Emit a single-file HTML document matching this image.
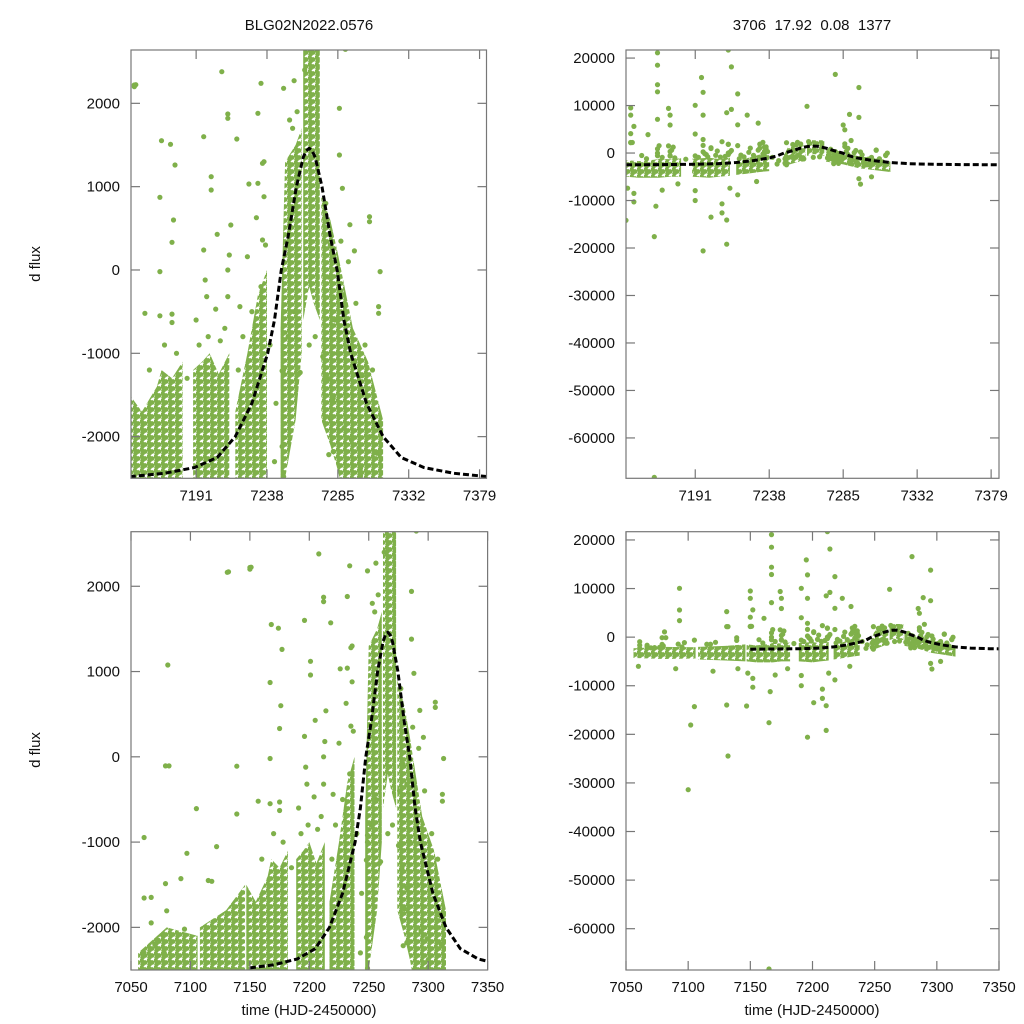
<!DOCTYPE html>
<html><head><meta charset="utf-8">
<style>
html,body{margin:0;padding:0;background:#fff;width:1024px;height:1024px;overflow:hidden;}
svg{display:block;overflow:hidden;font-family:"Liberation Sans",sans-serif;}
</style></head>
<body>
<svg id="chart" width="1024" height="1024" viewBox="0 0 1024 1024">
<defs>
<pattern id="dots" patternUnits="userSpaceOnUse" width="7" height="7">
<circle cx="1.5" cy="1.5" r="2.5" fill="#7fb04a"/>
<circle cx="5" cy="3.5" r="2.4" fill="#7fb04a"/>
<circle cx="2.5" cy="5.5" r="2.3" fill="#7fb04a"/>
</pattern>
</defs>
<text x="309" y="30" font-size="15" text-anchor="middle" fill="#111">BLG02N2022.0576</text>
<text x="812" y="30" font-size="15" text-anchor="middle" fill="#111" xml:space="preserve">3706  17.92  0.08  1377</text>
<text transform="translate(40,264) rotate(-90)" font-size="15" text-anchor="middle" fill="#111">d flux</text>
<text transform="translate(40,750) rotate(-90)" font-size="15" text-anchor="middle" fill="#111">d flux</text>
<text x="309" y="1015" font-size="15" text-anchor="middle" fill="#111">time (HJD-2450000)</text>
<text x="812" y="1015" font-size="15" text-anchor="middle" fill="#111">time (HJD-2450000)</text>
</svg>
<script>
// ---- data ----
// dense observation envelopes per season: [time, fluxLow, fluxHigh]
const envSeason0 = [[7056,-4300,-2300],[7080,-4500,-2000],[7106,-4400,-2100]];
const envSeason1 = [[7108,-4600,-2000],[7130,-4800,-1800],[7146,-5000,-1500]];
const envSeason2 = [[7147,-5000,-1500],[7155,-5200,-1700],[7165,-5200,-1400],[7168,-5200,-1200],[7175,-5000,-1300],[7182,-5000,-1100]];
const envSeason3 = [[7189,-5000,-1200],[7195,-5100,-1100],[7200,-5200,-1000],[7206,-5000,-1250],[7213,-4800,-1000]];
const envSeason4 = [[7217,-4600,-1700],[7225,-4300,-1000],[7232,-4000,-300],[7238,-3800,0]];
const envSeason5 = [[7247,-2800,-700],[7250,-2500,1300],[7257,-1800,1500],[7261,-1000,1700]];
const envSeason6 = [[7262,-600,2700],[7266,-200,2700],[7269,-400,2700],[7273,-600,2700]];
const envSeason7 = [[7274,-1800,900],[7280,-2100,600],[7285,-2400,200],[7295,-3200,-700],[7305,-3600,-1100],[7315,-4000,-1800]];
const envelopes = [envSeason0,envSeason1,envSeason2,envSeason3,envSeason4,envSeason5,envSeason6,envSeason7];

// individual observations [time, flux]
const obsSparse = [
[7061,-946],[7061,-1656],[7067,-1649],[7067,-1948],[7081,1077],[7079,-106],[7082,-106],[7079,-1487],[7080,-1806],
[7092,-1428],[7097,-1132],[7105,-607],[7095,-2020],[7061,-2300],[7070,-2200],[7073,-2150],[7077,-2100],[7078,-2300],
[7115,-1450],[7118,-1460],[7122,-1053],[7132,2170],[7151,2224],[7139,-670],[7139,-110],
[7150,2220],[7208,2380],[7168,1552],[7174,1508],[7177,1260],[7167,872],[7176,600],[7175,332],[7167,-20],
[7196,1600],[7201,1120],[7201,960],[7212,1872],[7212,1820],[7218,1572],[7205,428],[7214,540],[7196,240],
[7234,2240],[7232,1880],[7249,2180],[7256,2272],[7263,2400],[7290,2648],[7286,1940],[7286,1380],[7288,980],
[7306,640],[7306,580],[7313,-20],[7312,-440],[7312,-520],[7235,1280],[7236,1300],[7232,1040],[7226,1032],
[7236,880],[7231,628],[7235,360],[7225,160],[7213,180],[7212,0],[7197,-120],[7198,-320],[7212,-320],
[7157,-520],[7167,-550],[7175,-630],[7175,-530],[7191,-600],[7204,-470],[7220,-440],[7249,-1200],[7260,-1230],
[7249,-1000],[7249,-920],[7275,-1040],[7282,-1540],[7282,-2180],[7294,-2040],[7300,-2470],[7300,-2380],
[7249,-2480],[7249,-2090],[7279,-87],[7282,-323],[7290,-797],[7296,-1112],[7301,-1270],[7304,-1664],
[7310,-1860],[7299,-2137],[7279,-2215],[7248,-2118],[7248,-1211],[7259,-1250],[7280,-1782],[7293,544],
[7287,347],[7296,229],[7277,800],[7280,300],[7283,-600],[7288,-300],[7291,-1500],[7297,-400],[7303,-900],
[7308,-1200],[7311,-2200],[7276,-400],[7278,-1300],[7285,-1000],[7292,100],[7289,-1900],[7306,-2000],
[7160,-1200],[7170,-900],[7178,-1000],[7185,-1300],[7193,-900],[7199,-800],[7207,-850],[7210,-700],
[7219,-1200],[7222,-800],[7228,-500],[7234,-200],[7237,300],[7240,-900],[7244,-1600],[7243,-2300],
[7253,1800],[7255,1700],[7258,1900],[7266,-900],[7270,-800],[7252,-800],[7256,-500]
];
const obsOutliers = [
[7093,10053],[7093,5594],[7093,3400],[7102,-18073],[7105,-14300],[7131,5250],[7131,2164],[7131,-13957],
[7132,-24453],[7150,9500],[7150,8000],[7152,5600],[7150,4100],[7150,2200],[7152,-10300],[7161,3880],
[7167,21100],[7167,18500],[7167,14400],[7167,12900],[7167,7100],[7165,-17600],[7166,-11200],[7174,9400],
[7175,8000],[7175,5900],[7191,10050],[7195,15900],[7196,12800],[7196,8000],[7191,4000],[7196,2850],
[7191,-10000],[7191,-7900],[7201,-13500],[7196,-20600],[7208,-10700],[7208,-12600],[7211,-14100],[7211,-19200],
[7212,21700],[7214,18150],[7211,8500],[7214,9200],[7218,12450],[7218,5940],[7224,8000],[7231,6300],
[7213,-7400],[7218,-8800],[7262,9850],[7280,16570],[7295,13800],[7289,8130],[7295,7500],[7285,5900],
[7286,4900],[7295,-5400],[7296,-6550],[7303,-5000],[7148,-7400],[7152,-8500],[7147,-14170],[7100,-31400],
[7165,-68300],[7060,-6000],[7090,-6500],[7120,-7000],[7140,-6500],[7170,-7800],[7180,-6500],[7230,-6000]
];

// model curve samples [time], [flux]
const modelT = [7050,7100,7147,7150,7170,7190,7205,7217,7228,7238.5,7243,7247.5,7252,7257.5,7262,7264,7266,7268,7270,7274.5,7280,7284.5,7289,7293.5,7304,7315,7327,7342,7362,7384];
const modelF = [-2500,-2495,-2480,-2475,-2440,-2370,-2250,-2000,-1600,-1000,-600,0,400,1000,1350,1430,1460,1430,1350,1000,400,0,-600,-1000,-1600,-2000,-2250,-2370,-2440,-2480];

// axis ticks
const xTicksTop = [7191,7238,7285,7332,7379];
const xTicksBottom = [7050,7100,7150,7200,7250,7300,7350];
const yTicksLeft = [-2000,-1000,0,1000,2000];
const yTicksRight = [-60000,-50000,-40000,-30000,-20000,-10000,0,10000,20000];

// ---- drawing ----
const NS = "http://www.w3.org/2000/svg";
const svg = document.getElementById("chart");
const GREEN = "#7fb04a";
const panels = [
 {id:"top-left", x0:131,x1:486.5,y0:50,y1:478.3,tmin:7147.8,tmax:7383.6,fmin:-2500,fmax:2640,xt:xTicksTop,yt:yTicksLeft,mFrom:7140},
 {id:"top-right",x0:626,x1:999,y0:50,y1:478.3,tmin:7147,tmax:7384,fmin:-68500,fmax:21700,xt:xTicksTop,yt:yTicksRight,mFrom:7140},
 {id:"bottom-left",x0:131,x1:487.6,y0:531.7,y1:970,tmin:7050,tmax:7350,fmin:-2500,fmax:2640,xt:xTicksBottom,yt:yTicksLeft,mFrom:7150},
 {id:"bottom-right",x0:626,x1:999,y0:531.7,y1:970,tmin:7050,tmax:7350,fmin:-68500,fmax:21700,xt:xTicksBottom,yt:yTicksRight,mFrom:7150}
];
function mk(tag, attrs, parent){const e=document.createElementNS(NS,tag);for(const k in attrs)e.setAttribute(k,attrs[k]);(parent||svg).appendChild(e);return e;}
const defs = svg.querySelector("defs");
panels.forEach((p,pi)=>{
  const xs = t => p.x0 + (t-p.tmin)/(p.tmax-p.tmin)*(p.x1-p.x0);
  const ys = f => p.y1 - (f-p.fmin)/(p.fmax-p.fmin)*(p.y1-p.y0);
  const cp = mk("clipPath",{id:"clip"+pi},defs);
  mk("rect",{x:p.x0,y:p.y0,width:p.x1-p.x0,height:p.y1-p.y0},cp);
  const g = mk("g",{"clip-path":"url(#clip"+pi+")"});
  
  
  envelopes.forEach((env,ei)=>{
    let d = env.map((r,i)=>(i?"L":"M")+xs(r[0]).toFixed(1)+","+ys(r[2]).toFixed(1)).join("");
    d += env.slice().reverse().map(r=>"L"+xs(r[0]).toFixed(1)+","+ys(r[1]).toFixed(1)).join("")+"Z";
    const e = mk("path",{d:d,fill:"url(#dots)",stroke:"none"},g);
    
    
  });
  obsSparse.concat(obsOutliers).forEach(o=>{
    const c = mk("circle",{cx:xs(o[0]).toFixed(1),cy:ys(o[1]).toFixed(1),r:"2.6",fill:GREEN},g);
    
    
  });
  let md = ""; let first = true;
  modelT.forEach((t,i)=>{ if(t<p.mFrom) return; md += (first?"M":"L")+xs(t).toFixed(1)+","+ys(modelF[i]).toFixed(1); first=false; });
  const ml = mk("path",{d:md,fill:"none",stroke:"#000","stroke-width":"3","stroke-dasharray":"6,3","stroke-linejoin":"round"},g);
  
  
  const fr = mk("rect",{x:p.x0,y:p.y0,width:p.x1-p.x0,height:p.y1-p.y0,fill:"none",stroke:"#777","stroke-width":"1.2"});
  
  
  p.xt.forEach(t=>{
    const x = xs(t);
    mk("line",{x1:x,x2:x,y1:p.y1,y2:p.y1-9,stroke:"#777","stroke-width":"1.2"});
    mk("line",{x1:x,x2:x,y1:p.y0,y2:p.y0+9,stroke:"#777","stroke-width":"1.2"});
    const tx = mk("text",{x:x,y:p.y1+22,"font-size":"15","text-anchor":"middle",fill:"#111"});
    tx.textContent = t;
    
    
  });
  p.yt.forEach(f=>{
    const y = ys(f);
    mk("line",{x1:p.x0,x2:p.x0+9,y1:y,y2:y,stroke:"#777","stroke-width":"1.2"});
    mk("line",{x1:p.x1,x2:p.x1-9,y1:y,y2:y,stroke:"#777","stroke-width":"1.2"});
    const ty = mk("text",{x:p.x0-11,y:y+5,"font-size":"15","text-anchor":"end",fill:"#111"});
    ty.textContent = f;
    
    
  });
});
</script>
</body></html>
